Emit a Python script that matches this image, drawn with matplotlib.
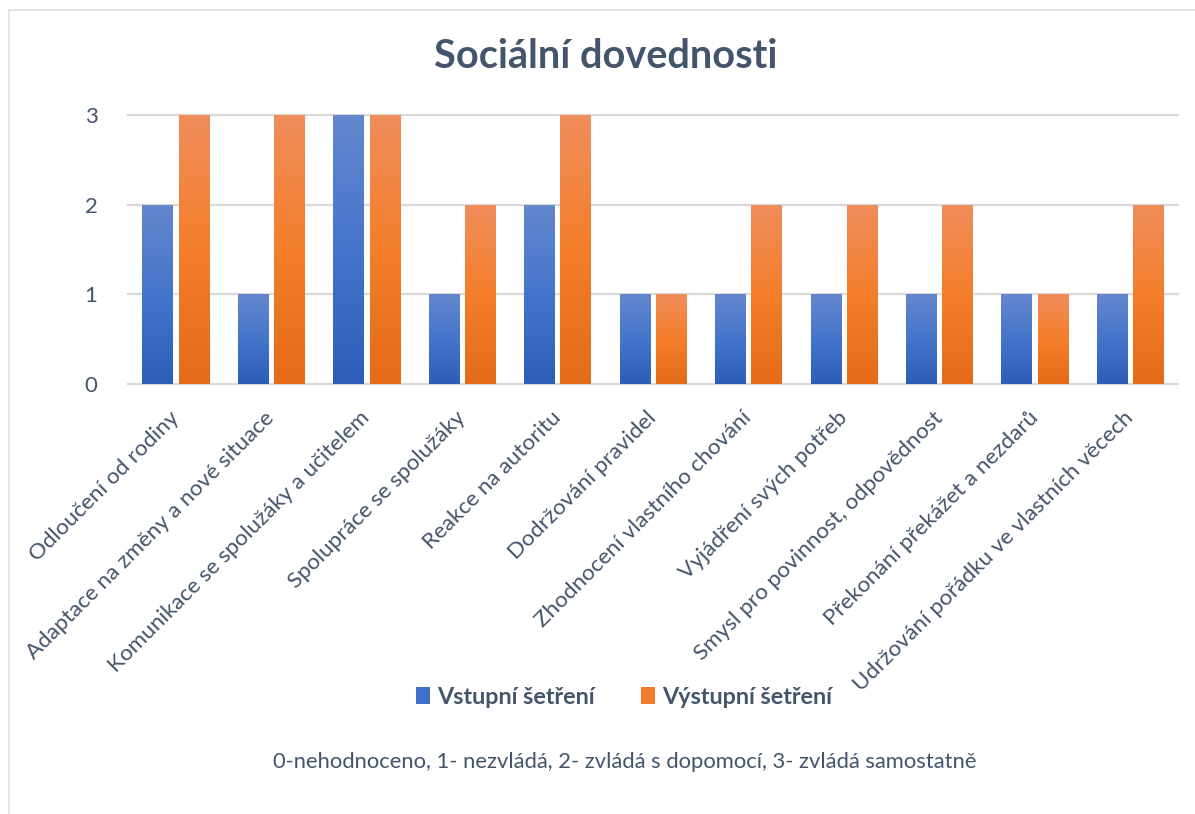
import numpy as np
import matplotlib
matplotlib.use("Agg")
import matplotlib.pyplot as plt
from matplotlib.colors import LinearSegmentedColormap
from matplotlib.patches import Patch, Rectangle

plt.rcParams['font.family'] = ['Lato', 'DejaVu Sans']

# skills and scores (0-3 scale)
categories = [
    "Odloučení od rodiny",
    "Adaptace na změny a nové situace",
    "Komunikace se spolužáky a učitelem",
    "Spolupráce se spolužáky",
    "Reakce na autoritu",
    "Dodržování pravidel",
    "Zhodnocení vlastního chování",
    "Vyjádření svých potřeb",
    "Smysl pro povinnost, odpovědnost",
    "Překonání překážet a nezdarů",
    "Udržování pořádku ve vlastních věcech",
]
vstupni = [2, 1, 3, 1, 2, 1, 1, 1, 1, 1, 1]
vystupni = [3, 3, 3, 2, 3, 1, 2, 2, 2, 1, 2]
series_names = ["Vstupní šetření", "Výstupní šetření"]
yticks = [0, 1, 2, 3]

text_col = "#44546A"
grid_col = "#D9D9D9"

blue_cmap = LinearSegmentedColormap.from_list("b", ["#2D5DB6", "#4575CB", "#6487CD"])
orange_cmap = LinearSegmentedColormap.from_list("o", ["#E36B19", "#F47E2B", "#F08D5B"])

fig = plt.figure(figsize=(11.95, 8.14), dpi=100)
W, H = 1195, 814
ax = fig.add_axes([128 / W, 1 - 384 / H, (1178 - 128) / W, (384 - 115) / H])

x = np.arange(len(categories))
width = 0.32
off = 0.19
bars1 = ax.bar(x - off, vstupni, width, facecolor="none", edgecolor="none")
bars2 = ax.bar(x + off, vystupni, width, facecolor="none", edgecolor="none")

# vertical gradient inside each bar
grad = np.linspace(0, 1, 256).reshape(-1, 1)
for bars, cmap in ((bars1, blue_cmap), (bars2, orange_cmap)):
    for p in bars:
        x0, y0 = p.get_x(), p.get_y()
        w, h = p.get_width(), p.get_height()
        im = ax.imshow(grad, extent=[x0, x0 + w, y0, y0 + h], origin="lower",
                       aspect="auto", cmap=cmap, zorder=2)
        im.set_clip_path(p)

ax.set_xlim(-0.5, len(categories) - 0.5)
ax.set_ylim(0, 3)
for v in yticks:
    ax.axhline(v, color=grid_col, lw=1.6, zorder=1, clip_on=False)

for s in ax.spines.values():
    s.set_visible(False)
ax.set_yticks(yticks)
ax.set_yticklabels([str(v) for v in yticks], fontsize=16, color=text_col)
ax.tick_params(axis="y", length=0, pad=22)
ax.set_xticks(x)
ax.set_xticklabels(categories, rotation=45, ha="right", va="center",
                   rotation_mode="anchor", fontsize=16.2, color=text_col)
ax.tick_params(axis="x", length=0, pad=22)

fig.text(606 / W, 1 - 57 / H, "Sociální dovednosti", ha="center", va="center",
         fontsize=28.5, fontweight="bold", color=text_col)

handles = [Patch(facecolor="#4070C8", edgecolor="none"),
           Patch(facecolor="#F07E2E", edgecolor="none")]
leg = fig.legend(handles, series_names, loc="center", bbox_to_anchor=(624 / W, 1 - 697 / H),
                 ncol=2, frameon=False, handlelength=0.6, handleheight=0.75,
                 handletextpad=0.3, columnspacing=2.0,
                 prop={"size": 16.8, "weight": "bold"})
for t in leg.get_texts():
    t.set_color(text_col)

fig.text(625 / W, 1 - 762 / H,
         "0-nehodnoceno, 1- nezvládá, 2- zvládá s dopomocí, 3- zvládá samostatně",
         ha="center", va="center", fontsize=15.8, color=text_col)

# chart frame
fig.add_artist(Rectangle((9 / W, -0.01), 1.0, 1 - 10 / H + 0.01, transform=fig.transFigure,
                         fill=False, edgecolor="#DDE1E8", lw=1.2))

fig.savefig("out.png", dpi=100, facecolor="white")
